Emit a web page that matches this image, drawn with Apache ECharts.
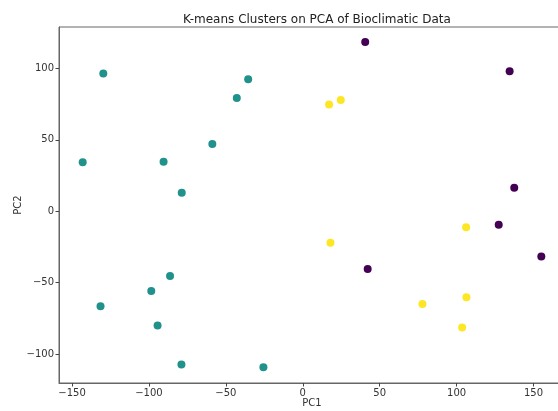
<!DOCTYPE html>
<html>
<head>
<meta charset="utf-8">
<script src="https://cdn.jsdelivr.net/npm/echarts@6/dist/echarts.min.js"></script>
<style>html,body{margin:0;padding:0;background:#fff}#c{width:558px;height:411px}</style>
</head>
<body>
<div id="c"></div>
<script>
const xTicks = [-150, -100, -50, 0, 50, 100, 150];
const yTicks = [-100, -50, 0, 50, 100];
const cluster0 = [[40.6,118.4],[134.5,98.0],[137.5,16.5],[127.4,-9.5],[155.1,-31.6],[42.2,-40.5]];
const cluster1 = [[-129.7,96.3],[-35.5,92.3],[-42.9,79.3],[-143.1,34.2],[-90.5,34.7],[-58.8,47.0],[-78.7,13.0],[-86.3,-45.3],[-98.5,-55.8],[-131.5,-66.5],[-94.4,-80.0],[-78.9,-107.2],[-25.6,-109.1]];
const cluster2 = [[17.1,74.6],[24.7,77.8],[106.2,-11.2],[18.0,-22.1],[77.8,-64.9],[106.4,-60.2],[103.6,-81.4]];
const colors = ['#440154', '#21918c', '#fde725'];

const font = 'DejaVu Sans';
const fmt = v => String(v).replace('-', '\u2212');
const chart = echarts.init(document.getElementById('c'));
function axis(name, min, max, ticks, gap, rotate) {
  return {
    type: 'value', name: name, nameLocation: 'middle', nameGap: gap, nameRotate: rotate,
    nameMoveOverlap: false,
    nameTextStyle: {fontFamily: font, fontSize: 10, color: '#333'},
    min: min, max: max,
    axisLine: {show: true, onZero: false, lineStyle: {color: '#666', width: 1}},
    axisTick: {show: true, length: 3.5, lineStyle: {color: '#444'}, customValues: ticks},
    axisLabel: {fontFamily: font, fontSize: 10, color: '#333', margin: 5, customValues: ticks, formatter: fmt},
    splitLine: {show: false}
  };
}
chart.setOption({
  animation: false,
  backgroundColor: '#fff',
  title: {text: 'K-means Clusters on PCA of Bioclimatic Data', left: 312, top: 9, textAlign: 'center',
    textStyle: {fontFamily: font, fontSize: 12, fontWeight: 'normal', color: '#222'}},
  grid: {left: 59, top: 27, width: 506, height: 356, outerBoundsMode: 'none', containLabel: false,
    show: true, borderColor: '#666', borderWidth: 1},
  xAxis: axis('PC1', -158.5, 170.5, xTicks, 15, 0),
  yAxis: axis('PC2', -120.2, 128.9, yTicks, 36, 90),
  series: [cluster0, cluster1, cluster2].map((d, i) => ({
    type: 'scatter', data: d, symbolSize: 8,
    itemStyle: {color: colors[i], opacity: 1}
  }))
});
</script>
</body>
</html>
